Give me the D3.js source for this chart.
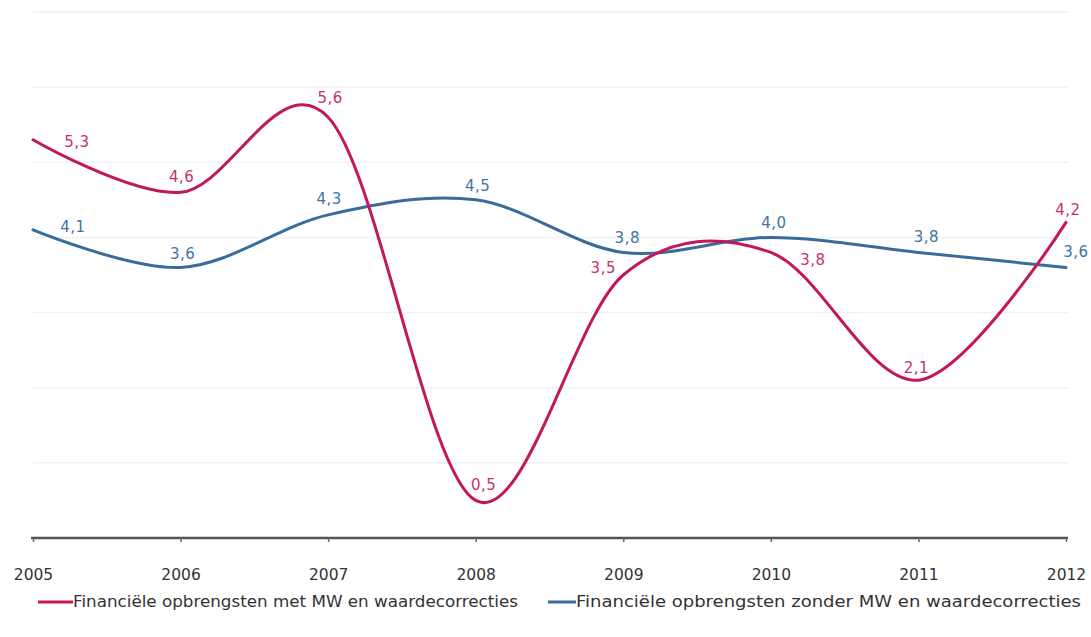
<!DOCTYPE html>
<html>
<head>
<meta charset="utf-8">
<script src="https://cdn.jsdelivr.net/npm/d3@7"></script>
<style>
  html, body { margin: 0; padding: 0; background: #ffffff; }
  svg { display: block; }
  text { font-family: "DejaVu Sans", sans-serif; }
</style>
</head>
<body>
<svg id="chart" width="1091" height="637"></svg>
<script>
// Years on the x axis
const years = ["2005", "2006", "2007", "2008", "2009", "2010", "2011", "2012"];

// Financiële opbrengsten met MW en waardecorrecties (%)
const metMW = [5.3, 4.6, 5.6, 0.5, 3.5, 3.8, 2.1, 4.2];

// Financiële opbrengsten zonder MW en waardecorrecties (%)
const zonderMW = [4.1, 3.6, 4.3, 4.5, 3.8, 4.0, 3.8, 3.6];

const seriesNames = [
  "Financiële opbrengsten met MW en waardecorrecties",
  "Financiële opbrengsten zonder MW en waardecorrecties"
];

// Gridline values
const gridValues = [1, 2, 3, 4, 5, 6, 7];

// Label nudges (dx, dy) in pixels relative to each point
const metLabelNudge = [[44, 2], [1, -15], [2, -19], [8, -15], [-20, -7], [42, 8], [-2, -12], [2, -12]];
const zonderLabelNudge = [[40, -3], [2, -13], [1, -16], [2, -14], [4, -14], [3, -14], [8, -15], [10, -15]];

const PINK = "#c2185b";
const PINK_TEXT = "#c4336c";
const BLUE = "#3a6c9b";
const BLUE_TEXT = "#3e74a6";

const svg = d3.select("#chart");

const x = d3.scalePoint().domain(years).range([33, 1066]);
const y = d3.scaleLinear().domain([0, 7]).range([538, 12]);

// Gridlines
svg.append("g")
  .selectAll("line")
  .data(gridValues)
  .join("line")
  .attr("x1", 33)
  .attr("x2", 1068)
  .attr("y1", d => y(d))
  .attr("y2", d => y(d))
  .attr("stroke", "#f1f1f1")
  .attr("stroke-width", 1.5);

// X axis
const xAxis = svg.append("g")
  .attr("transform", `translate(0,${y(0)})`)
  .call(d3.axisBottom(x).tickSize(4).tickSizeOuter(0));
xAxis.select(".domain")
  .attr("stroke", "#555555")
  .attr("stroke-width", 2.5)
  .attr("d", `M${x(years[0]) - 2},0H${x(years[years.length - 1]) + 2}`);
xAxis.selectAll(".tick line").attr("stroke", "#666666").attr("stroke-width", 1.5);
xAxis.selectAll(".tick text")
  .attr("fill", "#333333")
  .style("font-size", "15.5px")
  .style("font-family", "'DejaVu Sans', sans-serif")
  .attr("dy", "0.35em")
  .attr("y", 37);

const line = d3.line()
  .x((d, i) => x(years[i]))
  .y(d => y(d))
  .curve(d3.curveCardinal.tension(0));

const series = [
  { values: zonderMW, color: BLUE, textColor: BLUE_TEXT, nudge: zonderLabelNudge },
  { values: metMW, color: PINK, textColor: PINK_TEXT, nudge: metLabelNudge }
];

const fmt = v => d3.format(".1f")(v).replace(".", ",");

series.forEach(s => {
  svg.append("path")
    .datum(s.values)
    .attr("fill", "none")
    .attr("stroke", s.color)
    .attr("stroke-width", 3)
    .attr("stroke-linecap", "round")
    .attr("d", line);
});

series.forEach(s => {
  svg.append("g")
    .selectAll("text")
    .data(s.values)
    .join("text")
    .attr("x", (d, i) => x(years[i]) + s.nudge[i][0])
    .attr("y", (d, i) => y(d) + s.nudge[i][1])
    .attr("text-anchor", "middle")
    .attr("dominant-baseline", "central")
    .attr("fill", s.textColor)
    .style("font-size", "15px")
    .style("letter-spacing", "0.5px")
    .text(d => fmt(d));
});

// Legend
const legendItems = [
  { name: seriesNames[0], color: PINK, x0: 38, x1: 73, len: 445 },
  { name: seriesNames[1], color: BLUE, x0: 548, x1: 576, len: 505 }
];
const legend = svg.append("g");
legendItems.forEach(item => {
  legend.append("line")
    .attr("x1", item.x0).attr("x2", item.x1)
    .attr("y1", 602).attr("y2", 602)
    .attr("stroke", item.color)
    .attr("stroke-width", 3);
  legend.append("text")
    .attr("x", item.x1)
    .attr("y", 602)
    .attr("dominant-baseline", "central")
    .attr("fill", "#333333")
    .style("font-size", "15px")
    .attr("textLength", item.len)
    .attr("lengthAdjust", "spacingAndGlyphs")
    .text(item.name);
});
</script>
</body>
</html>
